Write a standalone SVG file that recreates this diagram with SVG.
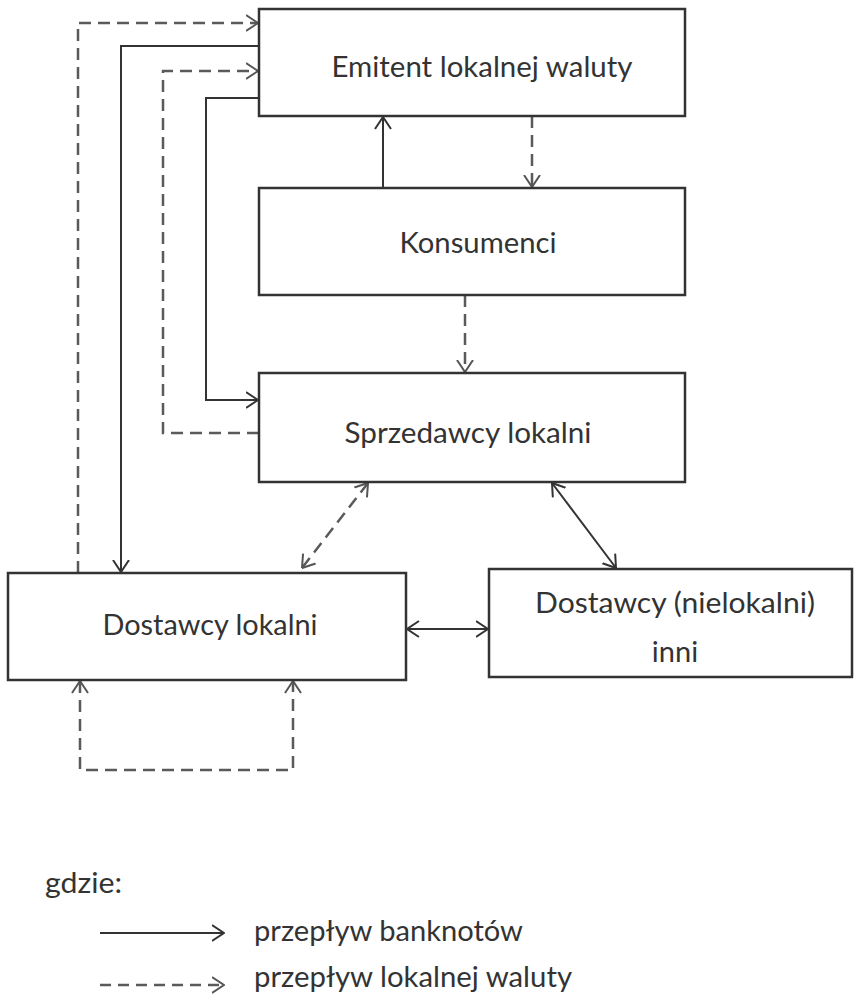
<svg xmlns="http://www.w3.org/2000/svg" width="854" height="996" viewBox="0 0 854 996">
<style>
  .box { fill: #fff; stroke: #333; stroke-width: 2.5; }
  .lbl { font-family: Lato, "Liberation Sans", sans-serif; font-size: 29px; fill: #333; }
  .solid { fill: none; stroke: #333; stroke-width: 2; }
  .dash { fill: none; stroke: #5a5a5a; stroke-width: 2.5; stroke-dasharray: 12 7; }
</style>
<defs>
  <marker id="aS" viewBox="0 0 13 18" refX="12.5" refY="9" markerWidth="13" markerHeight="18" markerUnits="userSpaceOnUse" orient="auto-start-reverse">
    <path d="M0.5,1 L12.5,9 L0.5,17" fill="none" stroke="#333" stroke-width="2"/>
  </marker>
  <marker id="aD" viewBox="0 0 13 18" refX="12.5" refY="9" markerWidth="13" markerHeight="18" markerUnits="userSpaceOnUse" orient="auto-start-reverse">
    <path d="M0.5,1 L12.5,9 L0.5,17" fill="none" stroke="#555" stroke-width="2"/>
  </marker>
</defs>

<g id="connectors">
  <path class="dash" d="M78,573 V23 H258" marker-end="url(#aD)"/>
  <path class="solid" d="M259,46 H121 V572" marker-end="url(#aS)"/>
  <path class="dash" d="M259,433 H163 V71 H258" marker-end="url(#aD)"/>
  <path class="solid" d="M259,98 H206 V400 H258" marker-end="url(#aS)"/>
  <path class="solid" d="M383,188 V117" marker-end="url(#aS)"/>
  <path class="dash" d="M532,116 V187" marker-end="url(#aD)"/>
  <path class="dash" d="M465,295 V372" marker-end="url(#aD)"/>
  <path class="dash" d="M368,483 L302,568" marker-start="url(#aD)" marker-end="url(#aD)"/>
  <path class="solid" d="M552,483 L616,568" marker-start="url(#aS)" marker-end="url(#aS)"/>
  <path class="solid" d="M407,629 H488" marker-start="url(#aS)" marker-end="url(#aS)"/>
  <path class="dash" d="M80,681 V770 H293 V681" marker-start="url(#aD)" marker-end="url(#aD)"/>
</g>

<g id="emitent">
  <rect class="box" x="259" y="9" width="426" height="107"/>
  <text class="lbl" x="482" y="77" text-anchor="middle" textLength="301" lengthAdjust="spacingAndGlyphs">Emitent lokalnej waluty</text>
</g>
<g id="konsumenci">
  <rect class="box" x="259" y="188" width="426" height="107"/>
  <text class="lbl" x="478" y="253" text-anchor="middle" textLength="157" lengthAdjust="spacingAndGlyphs">Konsumenci</text>
</g>
<g id="sprzedawcy">
  <rect class="box" x="259" y="373" width="426" height="109"/>
  <text class="lbl" x="468" y="443" text-anchor="middle" textLength="247" lengthAdjust="spacingAndGlyphs">Sprzedawcy lokalni</text>
</g>
<g id="dostawcy-lokalni">
  <rect class="box" x="8" y="573" width="398" height="107"/>
  <text class="lbl" x="210" y="635" text-anchor="middle" textLength="215" lengthAdjust="spacingAndGlyphs">Dostawcy lokalni</text>
</g>
<g id="dostawcy-nielokalni">
  <rect class="box" x="489" y="569" width="363" height="108"/>
  <text class="lbl" x="675" y="613" text-anchor="middle" textLength="280" lengthAdjust="spacingAndGlyphs">Dostawcy (nielokalni)</text>
  <text class="lbl" x="675" y="662" text-anchor="middle">inni</text>
</g>

<g id="legend">
  <text class="lbl" x="45" y="893" textLength="77" lengthAdjust="spacingAndGlyphs">gdzie:</text>
  <path class="solid" d="M100,933 H224" marker-end="url(#aS)"/>
  <text class="lbl" x="254" y="941" textLength="269" lengthAdjust="spacingAndGlyphs">przepływ banknotów</text>
  <path class="dash" d="M100,985 H224" style="stroke-dasharray:11 7" marker-end="url(#aD)"/>
  <text class="lbl" x="254" y="987" textLength="318" lengthAdjust="spacingAndGlyphs">przepływ lokalnej waluty</text>
</g>
</svg>
